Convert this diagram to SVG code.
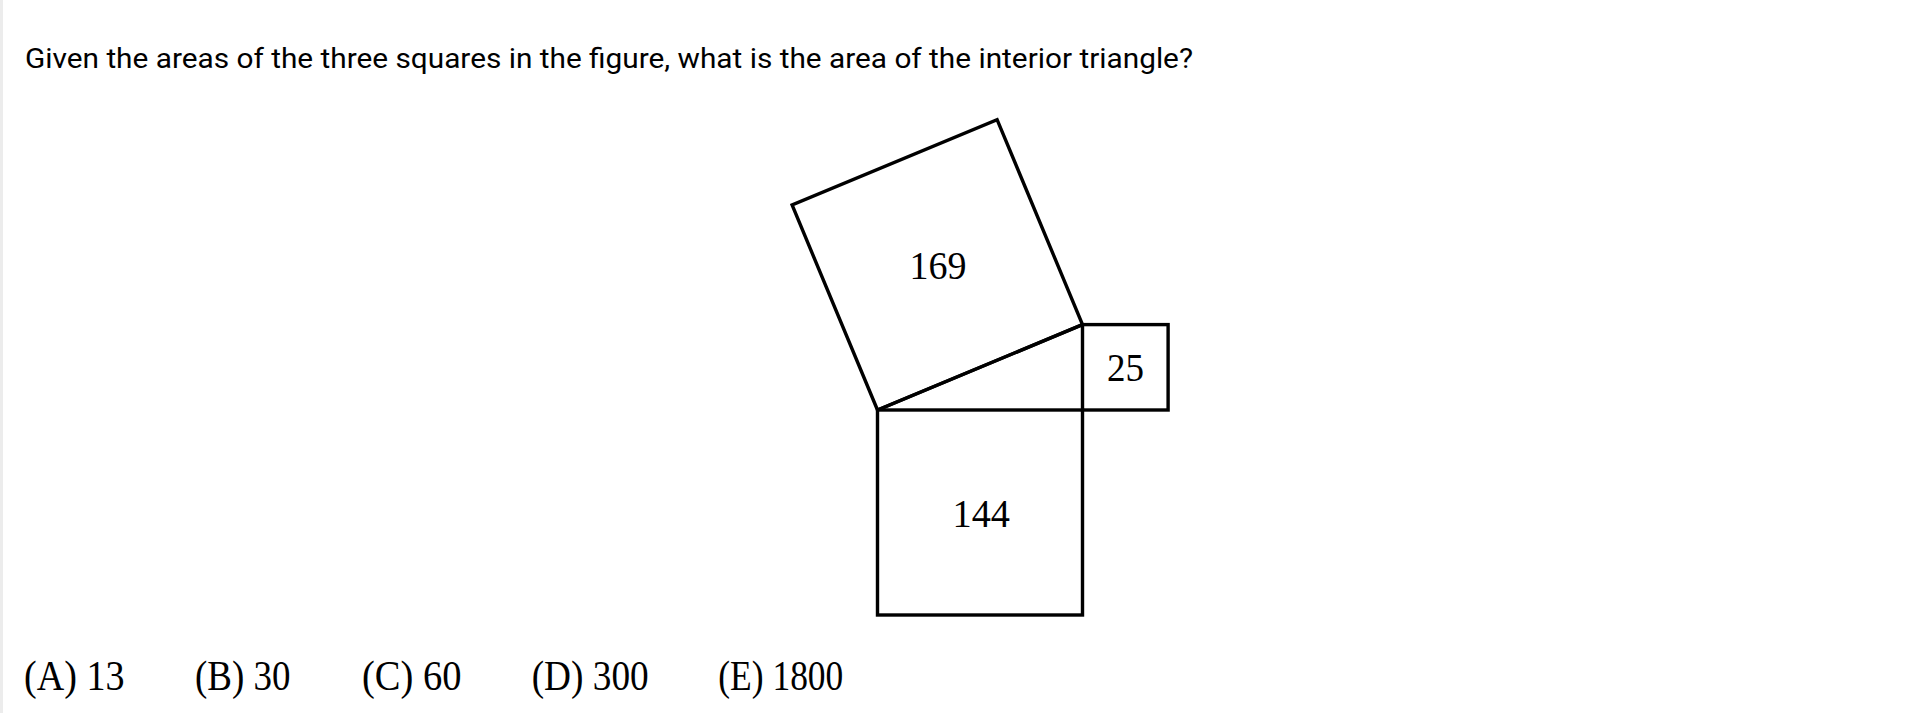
<svg xmlns="http://www.w3.org/2000/svg" width="1911" height="713" viewBox="0 0 1911 713">
<style>
.sq{fill:none;stroke:#000;stroke-width:3.4;stroke-linejoin:miter}
.q{font-family:Roboto,"Liberation Sans",sans-serif;font-size:28.5px;fill:#000}
.lbl{font-family:"Liberation Serif","DejaVu Serif",serif;font-size:41px;fill:#000}
.ans{font-family:"Liberation Serif","DejaVu Serif",serif;font-size:43px;fill:#000}
</style>
<rect x="0" y="0" width="1911" height="713" fill="#fff"/>
<rect x="0" y="0" width="3" height="713" fill="#ececec"/>
<text class="q" x="25" y="68" textLength="1168" lengthAdjust="spacingAndGlyphs">Given the areas of the three squares in the figure, what is the area of the interior triangle?</text>
<g id="square169">
<polygon class="sq" points="877.5,410 792.1,205 997.1,119.6 1082.5,324.6"/>
<text class="lbl" x="909.5" y="279" textLength="57" lengthAdjust="spacingAndGlyphs">169</text>
</g>
<g id="square25">
<rect class="sq" x="1082.5" y="324.6" width="85.6" height="85.4"/>
<text class="lbl" x="1107" y="381" textLength="37" lengthAdjust="spacingAndGlyphs">25</text>
</g>
<g id="square144">
<rect class="sq" x="877.5" y="410" width="205" height="205"/>
<text class="lbl" x="952.5" y="526.7" textLength="57.5" lengthAdjust="spacingAndGlyphs">144</text>
</g>
<g id="connectors">
<line class="sq" x1="877.5" y1="410" x2="1082.5" y2="324.6"/>
</g>
<g id="answers">
<text class="ans" x="24" y="690" textLength="100.5" lengthAdjust="spacingAndGlyphs">(A) 13</text>
<text class="ans" x="195" y="690" textLength="95.5" lengthAdjust="spacingAndGlyphs">(B) 30</text>
<text class="ans" x="362" y="690" textLength="99.5" lengthAdjust="spacingAndGlyphs">(C) 60</text>
<text class="ans" x="531.7" y="690" textLength="117" lengthAdjust="spacingAndGlyphs">(D) 300</text>
<text class="ans" x="718.3" y="690" textLength="125" lengthAdjust="spacingAndGlyphs">(E) 1800</text>
</g>
</svg>
